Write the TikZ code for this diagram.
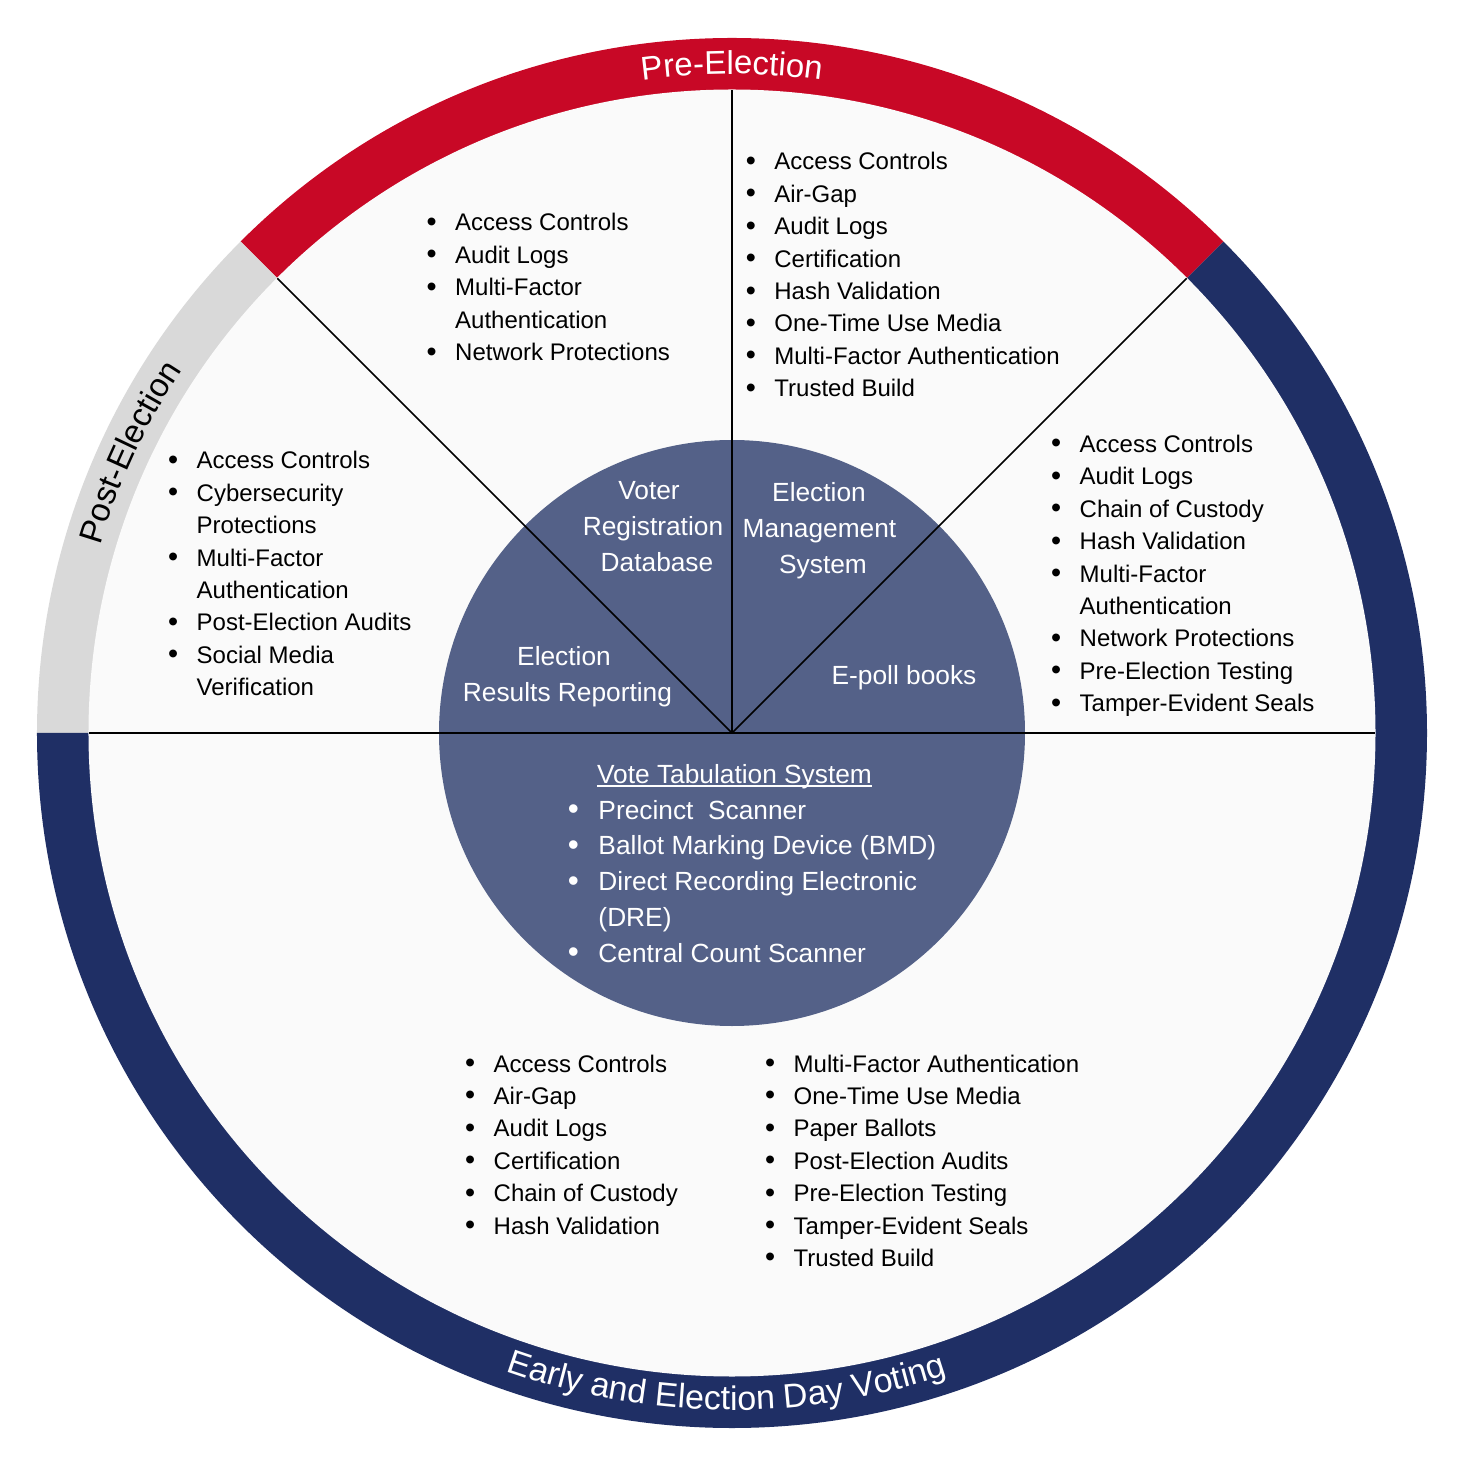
\documentclass[tikz,border=0pt]{standalone}
\usepackage{fontspec}
\setmainfont{Liberation Sans}
\usetikzlibrary{decorations.text}
\definecolor{prered}{RGB}{200,8,38}
\definecolor{navyband}{RGB}{31,47,101}
\definecolor{grayband}{RGB}{217,217,217}
\definecolor{discblue}{RGB}{84,97,136}
\definecolor{panel}{RGB}{250,250,250}
\newlength\bgap
\newcommand\bi[1]{\makebox[\bgap][l]{\makebox[0pt][c]{\raisebox{-0.5pt}{\scalebox{1.2}{•}}}}#1}
\newcommand\bc[1]{\hspace*{\bgap}#1}
\newcommand\blist[1]{\begin{tabular}[t]{@{}l@{}}#1\end{tabular}}
\newcommand\bandfont{\color{white}\fontsize{33}{40}\selectfont}
\newcommand\bandfontb{\color{white}\fontsize{34}{40}\selectfont}
\newcommand\bandfontk{\color{black}\fontsize{33}{40}\selectfont}
\tikzset{
  blist/.style={inner sep=0pt, anchor=base west, text=black,
    font={\fontsize{24}{32.4}\selectfont\setlength\bgap{23.5pt}}},
  wlist/.style={inner sep=0pt, anchor=base west, text=white,
    font={\fontsize{26.3}{35.8}\selectfont\setlength\bgap{25pt}}},
  disclbl/.style={inner sep=0pt, anchor=base, text=white,
    font={\fontsize{26.3}{36}\selectfont}},
  divider/.style={black, line width=1.5pt}
}
\begin{document}
\begin{tikzpicture}[x=1pt,y=1pt]
\useasboundingbox (-732,-730) rectangle (724,733);
\fill[white] (-732,-730) rectangle (724,733);
\coordinate (O) at (0,0);
% ring
\fill[prered] (45:695) arc[start angle=45,end angle=135,radius=695pt] -- (135:643) arc[start angle=135,end angle=45,radius=643pt] -- cycle;
\fill[grayband] (135:695) arc[start angle=135,end angle=180,radius=695pt] -- (180:643) arc[start angle=180,end angle=135,radius=643pt] -- cycle;
\fill[navyband] (180:695) arc[start angle=180,end angle=405,radius=695pt] -- (45:643) arc[start angle=405,end angle=180,radius=643pt] -- cycle;
\fill[panel] (O) circle[radius=643.5pt];
\fill[discblue] (O) circle[radius=293pt];
% dividers
\coordinate (pN) at (90:643);
\coordinate (pNE) at (45:643);
\coordinate (pNW) at (135:643);
\coordinate (pE) at (0:643);
\coordinate (pW) at (180:643);
\draw[divider] (O) -- (pN);
\draw[divider] (O) -- (pNE);
\draw[divider] (O) -- (pNW);
\draw[divider] (pW) -- (pE);
% band labels
\path[decorate,decoration={text along path,text align=center,text={|\bandfont|Pre-Election}}] (125:659) arc[start angle=125,end angle=55,radius=659pt];
\path[decorate,decoration={text along path,text align=center,text={|\bandfontk|Post-Election}}] (180:659) arc[start angle=180,end angle=130,radius=659pt];
\path[decorate,decoration={text along path,text align=center,text={|\bandfontb|Early and Election Day Voting}}] (234:677) arc[start angle=234,end angle=305,radius=677pt];
% lists
\node[blist] (lA) at (-300.5,502) {\blist{\bi{Access Controls}\\\bi{Audit Logs}\\\bi{Multi-Factor}\\\bc{Authentication}\\\bi{Network Protections}}};
\node[blist] (lB) at (18.7,563) {\blist{\bi{Access Controls}\\\bi{Air-Gap}\\\bi{Audit Logs}\\\bi{Certification}\\\bi{Hash Validation}\\\bi{One-Time Use Media}\\\bi{Multi-Factor Authentication}\\\bi{Trusted Build}}};
\node[blist] (lC) at (324,280.5) {\blist{\bi{Access Controls}\\\bi{Audit Logs}\\\bi{Chain of Custody}\\\bi{Hash Validation}\\\bi{Multi-Factor}\\\bc{Authentication}\\\bi{Network Protections}\\\bi{Pre-Election Testing}\\\bi{Tamper-Evident Seals}}};
\node[blist] (lD) at (-559,264) {\blist{\bi{Access Controls}\\\bi{Cybersecurity}\\\bc{Protections}\\\bi{Multi-Factor}\\\bc{Authentication}\\\bi{Post-Election Audits}\\\bi{Social Media}\\\bc{Verification}}};
\node[blist] (lE) at (-262,-339) {\blist{\bi{Access Controls}\\\bi{Air-Gap}\\\bi{Audit Logs}\\\bi{Certification}\\\bi{Chain of Custody}\\\bi{Hash Validation}}};
\node[blist] (lF) at (38,-339) {\blist{\bi{Multi-Factor Authentication}\\\bi{One-Time Use Media}\\\bi{Paper Ballots}\\\bi{Post-Election Audits}\\\bi{Pre-Election Testing}\\\bi{Tamper-Evident Seals}\\\bi{Trusted Build}}};
% disc labels
\node[disclbl] (vr1) at (-83,233) {Voter};
\node[disclbl] (vr2) at (-79,197) {Registration};
\node[disclbl] (vr3) at (-75,161) {Database};
\node[disclbl] (em1) at (87,231) {Election};
\node[disclbl] (em2) at (87.5,195) {Management};
\node[disclbl] (em3) at (91,159) {System};
\node[disclbl] (er1) at (-168,67) {Election};
\node[disclbl] (er2) at (-164.5,31) {Results Reporting};
\node[disclbl] (ep) at (172,48) {E-poll books};
\node[disclbl] (vt) at (2.5,-50.5) {Vote Tabulation System};
\draw[white,line width=1.3pt] ([yshift=-2.5pt]vt.base west) -- ([yshift=-2.5pt]vt.base east);
\node[wlist] (vl) at (-158.7,-86) {\blist{\bi{Precinct~~Scanner}\\\bi{Ballot Marking Device (BMD)}\\\bi{Direct Recording Electronic}\\\bc{(DRE)}\\\bi{Central Count Scanner}}};
\end{tikzpicture}
\end{document}
